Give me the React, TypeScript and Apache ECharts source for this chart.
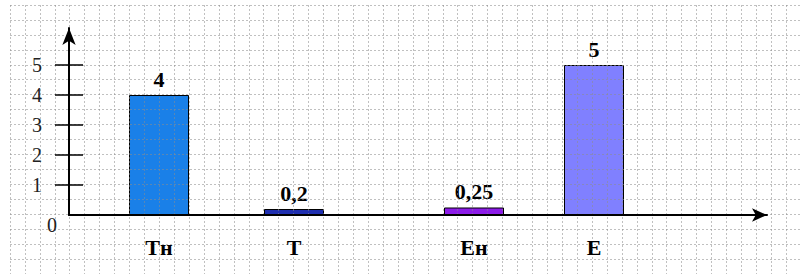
import React, { useEffect, useRef } from "react";
import * as echarts from "echarts";

const categories = ["Тн", "Т", "Ен", "Е"];
const positions = [6, 15, 27, 35];
const values = [4, 0.2, 0.25, 5];
const valueLabels = ["4", "0,2", "0,25", "5"];
const barColors = ["#1a80e8", "#1f2fb0", "#8c1be8", "#8080ff"];
const yTicks = [1, 2, 3, 4, 5];

const SERIF = "Liberation Serif, Times New Roman, serif";

export default function App() {
  const ref = useRef<HTMLDivElement>(null);
  useEffect(() => {
    if (!ref.current) return;
    const chart = echarts.init(ref.current, null, { renderer: "svg" });
    const gridLine = {
      show: true,
      lineStyle: { color: "rgba(140,140,140,0.55)", width: 1, type: [2, 2] as any },
    };
    chart.setOption({
      animation: false,
      backgroundColor: "#ffffff",
      grid: [
        { left: 69, top: 28, width: 698, height: 187 },
        { left: 10, top: 5, width: 795, height: 270 },
      ],
      xAxis: [
        {
          type: "value",
          gridIndex: 0,
          min: 0,
          max: 698 / 15,
          z: 5,
          splitLine: { show: false },
          axisTick: { show: false },
          axisLine: {
            show: true,
            onZero: false,
            symbol: ["none", "arrow"],
            symbolSize: [10, 15],
            lineStyle: { color: "#000", width: 2 },
          },
          axisLabel: {
            customValues: positions,
            formatter: (v: number) => {
              const i = positions.indexOf(v);
              return i >= 0 ? categories[i] : "";
            },
            margin: 21,
            fontFamily: SERIF,
            fontWeight: "bold",
            fontSize: 22,
            color: "#000",
          },
        },
        {
          type: "value",
          gridIndex: 1,
          min: 0,
          max: 795,
          interval: 15,
          z: 3,
          axisLine: { show: false },
          axisTick: { show: false },
          axisLabel: { show: false },
          splitLine: gridLine,
        },
      ],
      yAxis: [
        {
          type: "value",
          gridIndex: 0,
          position: "left",
          min: 0,
          max: 187 / 30,
          z: 5,
          splitLine: { show: false },
          axisLine: {
            show: true,
            onZero: false,
            symbol: ["none", "arrow"],
            symbolSize: [10, 17],
            lineStyle: { color: "#000", width: 2 },
          },
          axisTick: {
            show: true,
            customValues: yTicks,
            length: 14,
            lineStyle: { color: "#000", width: 1.5 },
          },
          axisLabel: {
            customValues: yTicks,
            margin: 27,
            fontFamily: SERIF,
            fontSize: 20,
            color: "#222",
          },
        },
        {
          type: "value",
          gridIndex: 0,
          position: "left",
          offset: 0,
          min: 0,
          max: 187 / 30,
          z: 5,
          splitLine: { show: false },
          axisLine: { show: false },
          axisTick: {
            show: true,
            inside: true,
            customValues: yTicks,
            length: 14,
            lineStyle: { color: "#000", width: 1.5 },
          },
          axisLabel: {
            customValues: [0],
            margin: 12,
            verticalAlign: "top",
            lineHeight: 20,
            fontFamily: SERIF,
            fontSize: 20,
            color: "#222",
          },
        },
        {
          type: "value",
          gridIndex: 1,
          min: 0,
          max: 270,
          interval: 15,
          z: 3,
          axisLine: { show: false },
          axisTick: { show: false },
          axisLabel: { show: false },
          splitLine: gridLine,
        },
      ],
      series: [
        {
          type: "bar",
          xAxisIndex: 0,
          yAxisIndex: 0,
          z: 2,
          barWidth: 60,
          data: values.map((v, i) => ({
            value: [positions[i], v],
            itemStyle: { color: barColors[i], borderColor: "#000", borderWidth: 1 },
          })),
          label: {
            show: true,
            position: "top",
            distance: 5,
            formatter: (p: any) => valueLabels[p.dataIndex],
            fontFamily: SERIF,
            fontWeight: "bold",
            fontSize: 22,
            color: "#000",
          },
        },
      ],
    });
    return () => chart.dispose();
  }, []);
  return (
    <div
      ref={ref}
      style={{ position: "fixed", left: 0, top: 0, width: 801, height: 274 }}
    />
  );
}
